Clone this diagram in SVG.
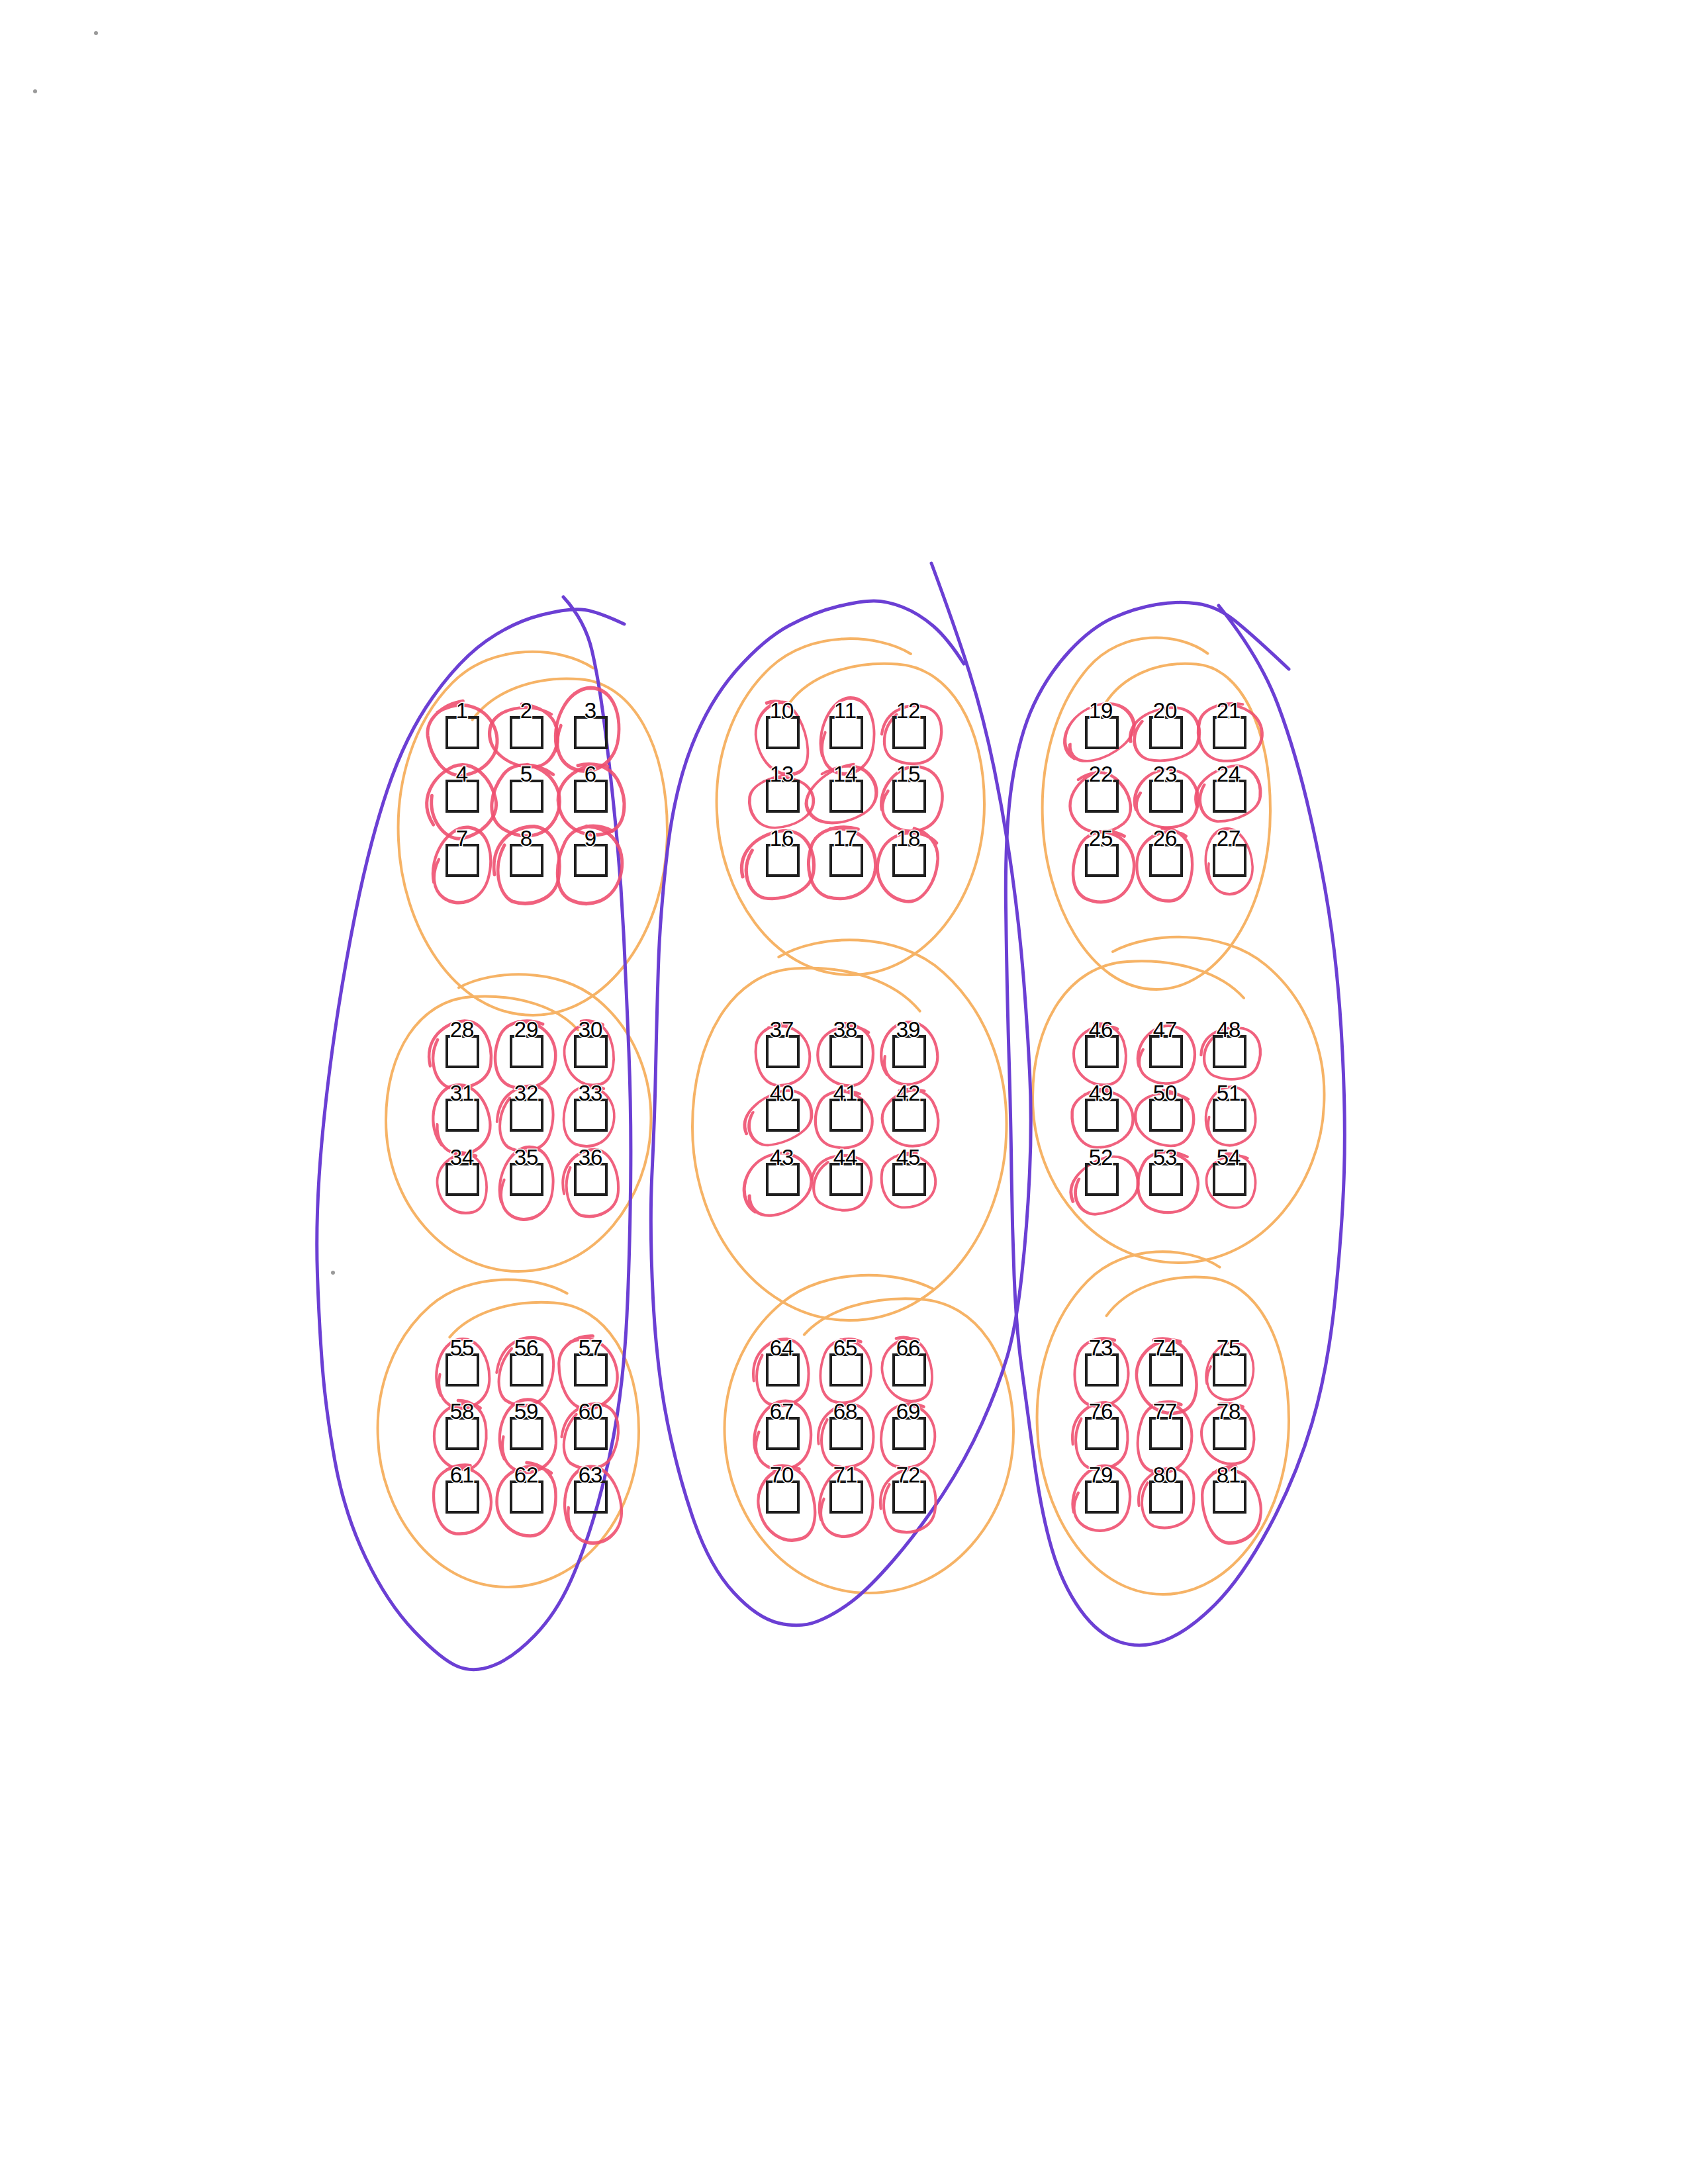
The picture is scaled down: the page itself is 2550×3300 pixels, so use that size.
<svg xmlns="http://www.w3.org/2000/svg" xmlns:xlink="http://www.w3.org/1999/xlink" width="2550" height="3300" viewBox="0 0 2550 3300">
<style>
.box{fill:none;stroke:#1e1e1e;stroke-width:4}
.lbl{font-family:"Liberation Sans",Arial,sans-serif;font-size:33px;fill:#000;text-anchor:middle;stroke:#fff;stroke-width:3;paint-order:stroke}
.red{fill:none;stroke:#ee5070;stroke-width:5;stroke-linecap:round;opacity:0.9}
.org{fill:none;stroke:#f6b366;stroke-width:4;stroke-linecap:round}
.pur{fill:none;stroke:#6b3fd4;stroke-width:5;stroke-linecap:round}
</style>
<defs>
<path id="og" d="M 0.45,-0.88 C 0.2,-1.0 -0.3,-1.02 -0.6,-0.8 C -0.9,-0.58 -1.02,-0.25 -1,0.05 C -0.98,0.5 -0.6,1.0 0,1 C 0.55,1.0 1.0,0.55 1,0 C 1.0,-0.45 0.75,-0.8 0.35,-0.82 C 0.0,-0.84 -0.3,-0.75 -0.45,-0.6" class="org" vector-effect="non-scaling-stroke"/>
<path id="ra" d="M -22,-48 C 22,-57 53,-28 51,9 C 48,46 13,60 -17,55 C -46,48 -55,11 -48,-20 C -42,-44 -11,-57 20,-51" class="red"/>
<path id="rb" d="M 33,-44 C 0,-60 -50,-38 -50,0 C -50,38 -17,60 17,55 C 46,50 55,11 44,-22 C 35,-46 11,-55 -11,-53" class="red"/>
<path id="rc" d="M -44,33 C -60,0 -38,-50 0,-53 C 38,-55 55,-17 50,17 C 44,50 6,64 -22,53 C -44,44 -50,22 -42,0" class="red"/>
<path id="rd" d="M -53,11 C -55,-33 -17,-53 17,-50 C 50,-44 57,-6 48,24 C 39,53 0,60 -28,50 C -50,39 -55,0 -33,-28" class="red"/>
</defs>
<rect width="2550" height="3300" fill="#fff"/>
<g id="specks" fill="#9a9a9a">
<circle cx="145" cy="50" r="3"/>
<circle cx="53" cy="138" r="3"/>
<circle cx="503" cy="1923" r="3"/>
</g>
<g id="connectors">
<g id="orange-groups">
<use href="#og" transform="translate(805,1255) scale(203,279)"/>
<use href="#og" transform="translate(783,1693) scale(-200,228)"/>
<use href="#og" transform="translate(768,2162) scale(197,236)"/>
<use href="#og" transform="translate(1285,1215) scale(202,258)"/>
<use href="#og" transform="translate(1283,1703) scale(-237,292)"/>
<use href="#og" transform="translate(1313,2163) scale(218,244)"/>
<use href="#og" transform="translate(1747,1225) scale(172,270)"/>
<use href="#og" transform="translate(1780,1658) scale(-220,250)"/>
<use href="#og" transform="translate(1757,2146) scale(190,263)"/>
</g>
<g id="purple-columns">
<path class="pur" d="M 943,943 Q 905,925 883.5,921.5 Q 862,918 818.5,929 Q 775,940 734.5,968.5 Q 694,997 653.5,1054 Q 613,1111 585.5,1192.5 Q 558,1274 536.5,1382 Q 515,1490 501.5,1590 Q 488,1690 482.5,1771.5 Q 477,1853 479.5,1926.5 Q 482,2000 487,2065 Q 492,2130 506,2208 Q 520,2286 552.5,2354 Q 585,2422 626,2465 Q 667,2508 691.5,2518 Q 716,2528 745.5,2516.5 Q 775,2505 807.5,2471.5 Q 840,2438 862,2389 Q 884,2340 903,2272.5 Q 922,2205 932.5,2137 Q 943,2069 947,1988 Q 951,1907 952.5,1798.5 Q 954,1690 950,1590 Q 946,1490 942,1409 Q 938,1328 930,1246.5 Q 922,1165 913.5,1097.5 Q 905,1030 894.5,984 Q 884,938 851,902"/>
<path class="pur" d="M 1407,851 Q 1443,948 1464.5,1016 Q 1486,1084 1502,1162.5 Q 1518,1241 1529,1320.5 Q 1540,1400 1546,1475 Q 1552,1550 1555.5,1620 Q 1559,1690 1555.5,1770 Q 1552,1850 1543.5,1927 Q 1535,2004 1521.5,2050 Q 1508,2096 1483.5,2150.5 Q 1459,2205 1423.5,2259 Q 1388,2313 1350.5,2356.5 Q 1313,2400 1286.5,2420 Q 1260,2440 1234.5,2450 Q 1209,2460 1176.5,2452.5 Q 1144,2445 1108.5,2406.5 Q 1073,2368 1049,2300 Q 1025,2232 1008.5,2150.5 Q 992,2069 986.5,1961 Q 981,1853 985,1771.5 Q 989,1690 990.5,1615 Q 992,1540 994.5,1461 Q 997,1382 1008,1287 Q 1019,1192 1046,1124.5 Q 1073,1057 1114,1011 Q 1155,965 1192.5,945 Q 1230,925 1265,916.5 Q 1300,908 1320,908 Q 1340,908 1364,917.5 Q 1388,927 1410,946 Q 1432,965 1456,1003"/>
<path class="pur" d="M 1841,915 Q 1903,992 1930.5,1065 Q 1958,1138 1979.5,1233 Q 2001,1328 2012,1409 Q 2023,1490 2028,1590 Q 2033,1690 2030.5,1771.5 Q 2028,1853 2017,1961 Q 2006,2069 1982,2150.5 Q 1958,2232 1917,2308 Q 1876,2384 1835.5,2424.5 Q 1795,2465 1759.5,2478.5 Q 1724,2492 1691.5,2481 Q 1659,2470 1632,2432.5 Q 1605,2395 1589,2340.5 Q 1573,2286 1562,2205 Q 1551,2124 1543,2064 Q 1535,2004 1532,1927 Q 1529,1850 1528,1770 Q 1527,1690 1524,1590 Q 1521,1490 1519.5,1371 Q 1518,1252 1529,1181.5 Q 1540,1111 1561.5,1065 Q 1583,1019 1616,983.5 Q 1649,948 1681.5,933.5 Q 1714,919 1746.5,913.5 Q 1779,908 1808.5,912 Q 1838,916 1865,937.5 Q 1892,959 1947,1011"/>
</g>
<g id="red-loops">
<use href="#ra" transform="translate(698,1114) rotate(-20)"/>
<use href="#rb" transform="translate(792,1110) rotate(10) scale(1.05,0.85)"/>
<use href="#rc" transform="translate(887,1100) rotate(5) scale(0.95,1.15)"/>
<use href="#rd" transform="translate(695,1210) rotate(-30)"/>
<use href="#ra" transform="translate(796,1208) rotate(25)"/>
<use href="#rb" transform="translate(893,1207) rotate(-10)"/>
<use href="#rc" transform="translate(698,1305) rotate(10) scale(0.85,1.05)"/>
<use href="#rd" transform="translate(796,1305) rotate(-5) scale(0.95,1.1)"/>
<use href="#ra" transform="translate(892,1305) rotate(15) scale(0.95,1.1)"/>
<use href="#rb" transform="translate(1180,1114) rotate(-15) scale(0.75,1.05)"/>
<use href="#rc" transform="translate(1280,1110) rotate(5) scale(0.8,1.05)"/>
<use href="#rd" transform="translate(1378,1108) rotate(10) scale(0.85,0.85)"/>
<use href="#ra" transform="translate(1180,1210) rotate(-10) scale(0.95,0.7)"/>
<use href="#rb" transform="translate(1270,1200) rotate(-25) scale(1.1,0.75)"/>
<use href="#rc" transform="translate(1378,1205) rotate(15) scale(0.9,0.9)"/>
<use href="#rd" transform="translate(1175,1305) rotate(-10) scale(1.05,0.95)"/>
<use href="#ra" transform="translate(1272,1302) rotate(5) scale(1.0,1.0)"/>
<use href="#rb" transform="translate(1372,1305) rotate(20) scale(0.9,1.0)"/>
<use href="#rc" transform="translate(1658,1105) rotate(-25) scale(1.1,0.7)"/>
<use href="#rd" transform="translate(1760,1108) rotate(-5) scale(1.0,0.75)"/>
<use href="#ra" transform="translate(1858,1105) rotate(0) scale(0.95,0.8)"/>
<use href="#rb" transform="translate(1660,1212) rotate(-30) scale(0.9,0.85)"/>
<use href="#rc" transform="translate(1762,1205) rotate(10) scale(0.95,0.8)"/>
<use href="#rd" transform="translate(1855,1198) rotate(-15) scale(0.95,0.75)"/>
<use href="#ra" transform="translate(1668,1308) rotate(15) scale(0.9,1.0)"/>
<use href="#rb" transform="translate(1760,1305) rotate(5) scale(0.85,1.0)"/>
<use href="#rc" transform="translate(1855,1300) rotate(-10) scale(0.7,0.9)"/>
<use href="#rd" transform="translate(695,1592) rotate(-10) scale(0.9,0.95)"/>
<use href="#ra" transform="translate(794,1592) rotate(10) scale(0.9,0.95)"/>
<use href="#rb" transform="translate(890,1590) rotate(-5) scale(0.75,0.9)"/>
<use href="#rc" transform="translate(695,1690) rotate(-15) scale(0.85,0.95)"/>
<use href="#rd" transform="translate(794,1688) rotate(5) scale(0.8,0.95)"/>
<use href="#ra" transform="translate(890,1685) rotate(10) scale(0.75,0.85)"/>
<use href="#rb" transform="translate(698,1786) rotate(-5) scale(0.75,0.85)"/>
<use href="#rc" transform="translate(795,1786) rotate(5) scale(0.8,1.0)"/>
<use href="#rd" transform="translate(892,1786) rotate(-10) scale(0.8,0.95)"/>
<use href="#ra" transform="translate(1182,1592) rotate(-5) scale(0.8,0.85)"/>
<use href="#rb" transform="translate(1278,1592) rotate(10) scale(0.85,0.85)"/>
<use href="#rc" transform="translate(1372,1590) rotate(-10) scale(0.85,0.85)"/>
<use href="#rd" transform="translate(1175,1688) rotate(-20) scale(1.0,0.7)"/>
<use href="#ra" transform="translate(1275,1690) rotate(10) scale(0.85,0.8)"/>
<use href="#rb" transform="translate(1375,1688) rotate(-10) scale(0.85,0.8)"/>
<use href="#rc" transform="translate(1172,1788) rotate(-25) scale(1.05,0.8)"/>
<use href="#rd" transform="translate(1272,1785) rotate(15) scale(0.85,0.8)"/>
<use href="#ra" transform="translate(1372,1782) rotate(-5) scale(0.8,0.75)"/>
<use href="#rb" transform="translate(1662,1592) rotate(0) scale(0.8,0.85)"/>
<use href="#rc" transform="translate(1762,1592) rotate(10) scale(0.85,0.8)"/>
<use href="#rd" transform="translate(1860,1590) rotate(5) scale(0.85,0.75)"/>
<use href="#ra" transform="translate(1665,1688) rotate(-10) scale(0.9,0.8)"/>
<use href="#rb" transform="translate(1760,1688) rotate(10) scale(0.9,0.75)"/>
<use href="#rc" transform="translate(1858,1685) rotate(-5) scale(0.75,0.8)"/>
<use href="#rd" transform="translate(1668,1790) rotate(-20) scale(1.0,0.75)"/>
<use href="#ra" transform="translate(1765,1785) rotate(15) scale(0.9,0.85)"/>
<use href="#rb" transform="translate(1860,1783) rotate(0) scale(0.75,0.75)"/>
<use href="#rc" transform="translate(698,2074) rotate(-5) scale(0.8,0.95)"/>
<use href="#rd" transform="translate(794,2070) rotate(10) scale(0.8,1.0)"/>
<use href="#ra" transform="translate(888,2072) rotate(-10) scale(0.85,1.0)"/>
<use href="#rb" transform="translate(696,2167) rotate(5) scale(0.8,0.95)"/>
<use href="#rc" transform="translate(796,2168) rotate(-5) scale(0.85,1.0)"/>
<use href="#rd" transform="translate(892,2168) rotate(10) scale(0.8,0.95)"/>
<use href="#ra" transform="translate(698,2264) rotate(-5) scale(0.85,0.95)"/>
<use href="#rb" transform="translate(796,2264) rotate(10) scale(0.9,1.0)"/>
<use href="#rc" transform="translate(894,2272) rotate(-10) scale(0.85,1.05)"/>
<use href="#rd" transform="translate(1180,2072) rotate(-5) scale(0.8,0.95)"/>
<use href="#ra" transform="translate(1278,2070) rotate(10) scale(0.75,0.9)"/>
<use href="#rb" transform="translate(1370,2068) rotate(-10) scale(0.75,0.9)"/>
<use href="#rc" transform="translate(1182,2167) rotate(5) scale(0.85,0.95)"/>
<use href="#rd" transform="translate(1278,2168) rotate(-5) scale(0.8,0.9)"/>
<use href="#ra" transform="translate(1372,2168) rotate(10) scale(0.8,0.9)"/>
<use href="#rb" transform="translate(1188,2270) rotate(-10) scale(0.85,1.05)"/>
<use href="#rc" transform="translate(1278,2268) rotate(5) scale(0.8,0.95)"/>
<use href="#rd" transform="translate(1372,2266) rotate(-5) scale(0.8,0.9)"/>
<use href="#ra" transform="translate(1664,2072) rotate(5) scale(0.8,0.95)"/>
<use href="#rb" transform="translate(1762,2078) rotate(-10) scale(0.9,1.05)"/>
<use href="#rc" transform="translate(1858,2070) rotate(10) scale(0.7,0.8)"/>
<use href="#rd" transform="translate(1662,2168) rotate(-5) scale(0.8,0.95)"/>
<use href="#ra" transform="translate(1760,2170) rotate(10) scale(0.8,1.0)"/>
<use href="#rb" transform="translate(1855,2165) rotate(-5) scale(0.8,0.85)"/>
<use href="#rc" transform="translate(1664,2262) rotate(10) scale(0.85,0.9)"/>
<use href="#rd" transform="translate(1762,2262) rotate(-5) scale(0.8,0.85)"/>
<use href="#ra" transform="translate(1860,2272) rotate(-10) scale(0.85,1.05)"/>
</g>
</g>
<g id="nodes">
<g id="n1"><rect class="box" x="675" y="1084" width="47" height="46"/><text class="lbl" x="698" y="1085">1</text></g>
<g id="n2"><rect class="box" x="772" y="1084" width="47" height="46"/><text class="lbl" x="795" y="1085">2</text></g>
<g id="n3"><rect class="box" x="869" y="1084" width="47" height="46"/><text class="lbl" x="892" y="1085">3</text></g>
<g id="n4"><rect class="box" x="675" y="1180" width="47" height="46"/><text class="lbl" x="698" y="1181">4</text></g>
<g id="n5"><rect class="box" x="772" y="1180" width="47" height="46"/><text class="lbl" x="795" y="1181">5</text></g>
<g id="n6"><rect class="box" x="869" y="1180" width="47" height="46"/><text class="lbl" x="892" y="1181">6</text></g>
<g id="n7"><rect class="box" x="675" y="1277" width="47" height="46"/><text class="lbl" x="698" y="1278">7</text></g>
<g id="n8"><rect class="box" x="772" y="1277" width="47" height="46"/><text class="lbl" x="795" y="1278">8</text></g>
<g id="n9"><rect class="box" x="869" y="1277" width="47" height="46"/><text class="lbl" x="892" y="1278">9</text></g>
<g id="n10"><rect class="box" x="1159" y="1084" width="47" height="46"/><text class="lbl" x="1181" y="1085">10</text></g>
<g id="n11"><rect class="box" x="1255" y="1084" width="47" height="46"/><text class="lbl" x="1277" y="1085">11</text></g>
<g id="n12"><rect class="box" x="1350" y="1084" width="47" height="46"/><text class="lbl" x="1372" y="1085">12</text></g>
<g id="n13"><rect class="box" x="1159" y="1180" width="47" height="46"/><text class="lbl" x="1181" y="1181">13</text></g>
<g id="n14"><rect class="box" x="1255" y="1180" width="47" height="46"/><text class="lbl" x="1277" y="1181">14</text></g>
<g id="n15"><rect class="box" x="1350" y="1180" width="47" height="46"/><text class="lbl" x="1372" y="1181">15</text></g>
<g id="n16"><rect class="box" x="1159" y="1277" width="47" height="46"/><text class="lbl" x="1181" y="1278">16</text></g>
<g id="n17"><rect class="box" x="1255" y="1277" width="47" height="46"/><text class="lbl" x="1277" y="1278">17</text></g>
<g id="n18"><rect class="box" x="1350" y="1277" width="47" height="46"/><text class="lbl" x="1372" y="1278">18</text></g>
<g id="n19"><rect class="box" x="1641" y="1084" width="47" height="46"/><text class="lbl" x="1663" y="1085">19</text></g>
<g id="n20"><rect class="box" x="1738" y="1084" width="47" height="46"/><text class="lbl" x="1760" y="1085">20</text></g>
<g id="n21"><rect class="box" x="1834" y="1084" width="47" height="46"/><text class="lbl" x="1856" y="1085">21</text></g>
<g id="n22"><rect class="box" x="1641" y="1180" width="47" height="46"/><text class="lbl" x="1663" y="1181">22</text></g>
<g id="n23"><rect class="box" x="1738" y="1180" width="47" height="46"/><text class="lbl" x="1760" y="1181">23</text></g>
<g id="n24"><rect class="box" x="1834" y="1180" width="47" height="46"/><text class="lbl" x="1856" y="1181">24</text></g>
<g id="n25"><rect class="box" x="1641" y="1277" width="47" height="46"/><text class="lbl" x="1663" y="1278">25</text></g>
<g id="n26"><rect class="box" x="1738" y="1277" width="47" height="46"/><text class="lbl" x="1760" y="1278">26</text></g>
<g id="n27"><rect class="box" x="1834" y="1277" width="47" height="46"/><text class="lbl" x="1856" y="1278">27</text></g>
<g id="n28"><rect class="box" x="675" y="1566" width="47" height="46"/><text class="lbl" x="698" y="1567">28</text></g>
<g id="n29"><rect class="box" x="772" y="1566" width="47" height="46"/><text class="lbl" x="795" y="1567">29</text></g>
<g id="n30"><rect class="box" x="869" y="1566" width="47" height="46"/><text class="lbl" x="892" y="1567">30</text></g>
<g id="n31"><rect class="box" x="675" y="1662" width="47" height="46"/><text class="lbl" x="698" y="1663">31</text></g>
<g id="n32"><rect class="box" x="772" y="1662" width="47" height="46"/><text class="lbl" x="795" y="1663">32</text></g>
<g id="n33"><rect class="box" x="869" y="1662" width="47" height="46"/><text class="lbl" x="892" y="1663">33</text></g>
<g id="n34"><rect class="box" x="675" y="1759" width="47" height="46"/><text class="lbl" x="698" y="1760">34</text></g>
<g id="n35"><rect class="box" x="772" y="1759" width="47" height="46"/><text class="lbl" x="795" y="1760">35</text></g>
<g id="n36"><rect class="box" x="869" y="1759" width="47" height="46"/><text class="lbl" x="892" y="1760">36</text></g>
<g id="n37"><rect class="box" x="1159" y="1566" width="47" height="46"/><text class="lbl" x="1181" y="1567">37</text></g>
<g id="n38"><rect class="box" x="1255" y="1566" width="47" height="46"/><text class="lbl" x="1277" y="1567">38</text></g>
<g id="n39"><rect class="box" x="1350" y="1566" width="47" height="46"/><text class="lbl" x="1372" y="1567">39</text></g>
<g id="n40"><rect class="box" x="1159" y="1662" width="47" height="46"/><text class="lbl" x="1181" y="1663">40</text></g>
<g id="n41"><rect class="box" x="1255" y="1662" width="47" height="46"/><text class="lbl" x="1277" y="1663">41</text></g>
<g id="n42"><rect class="box" x="1350" y="1662" width="47" height="46"/><text class="lbl" x="1372" y="1663">42</text></g>
<g id="n43"><rect class="box" x="1159" y="1759" width="47" height="46"/><text class="lbl" x="1181" y="1760">43</text></g>
<g id="n44"><rect class="box" x="1255" y="1759" width="47" height="46"/><text class="lbl" x="1277" y="1760">44</text></g>
<g id="n45"><rect class="box" x="1350" y="1759" width="47" height="46"/><text class="lbl" x="1372" y="1760">45</text></g>
<g id="n46"><rect class="box" x="1641" y="1566" width="47" height="46"/><text class="lbl" x="1663" y="1567">46</text></g>
<g id="n47"><rect class="box" x="1738" y="1566" width="47" height="46"/><text class="lbl" x="1760" y="1567">47</text></g>
<g id="n48"><rect class="box" x="1834" y="1566" width="47" height="46"/><text class="lbl" x="1856" y="1567">48</text></g>
<g id="n49"><rect class="box" x="1641" y="1662" width="47" height="46"/><text class="lbl" x="1663" y="1663">49</text></g>
<g id="n50"><rect class="box" x="1738" y="1662" width="47" height="46"/><text class="lbl" x="1760" y="1663">50</text></g>
<g id="n51"><rect class="box" x="1834" y="1662" width="47" height="46"/><text class="lbl" x="1856" y="1663">51</text></g>
<g id="n52"><rect class="box" x="1641" y="1759" width="47" height="46"/><text class="lbl" x="1663" y="1760">52</text></g>
<g id="n53"><rect class="box" x="1738" y="1759" width="47" height="46"/><text class="lbl" x="1760" y="1760">53</text></g>
<g id="n54"><rect class="box" x="1834" y="1759" width="47" height="46"/><text class="lbl" x="1856" y="1760">54</text></g>
<g id="n55"><rect class="box" x="675" y="2047" width="47" height="46"/><text class="lbl" x="698" y="2048">55</text></g>
<g id="n56"><rect class="box" x="772" y="2047" width="47" height="46"/><text class="lbl" x="795" y="2048">56</text></g>
<g id="n57"><rect class="box" x="869" y="2047" width="47" height="46"/><text class="lbl" x="892" y="2048">57</text></g>
<g id="n58"><rect class="box" x="675" y="2143" width="47" height="46"/><text class="lbl" x="698" y="2144">58</text></g>
<g id="n59"><rect class="box" x="772" y="2143" width="47" height="46"/><text class="lbl" x="795" y="2144">59</text></g>
<g id="n60"><rect class="box" x="869" y="2143" width="47" height="46"/><text class="lbl" x="892" y="2144">60</text></g>
<g id="n61"><rect class="box" x="675" y="2239" width="47" height="46"/><text class="lbl" x="698" y="2240">61</text></g>
<g id="n62"><rect class="box" x="772" y="2239" width="47" height="46"/><text class="lbl" x="795" y="2240">62</text></g>
<g id="n63"><rect class="box" x="869" y="2239" width="47" height="46"/><text class="lbl" x="892" y="2240">63</text></g>
<g id="n64"><rect class="box" x="1159" y="2047" width="47" height="46"/><text class="lbl" x="1181" y="2048">64</text></g>
<g id="n65"><rect class="box" x="1255" y="2047" width="47" height="46"/><text class="lbl" x="1277" y="2048">65</text></g>
<g id="n66"><rect class="box" x="1350" y="2047" width="47" height="46"/><text class="lbl" x="1372" y="2048">66</text></g>
<g id="n67"><rect class="box" x="1159" y="2143" width="47" height="46"/><text class="lbl" x="1181" y="2144">67</text></g>
<g id="n68"><rect class="box" x="1255" y="2143" width="47" height="46"/><text class="lbl" x="1277" y="2144">68</text></g>
<g id="n69"><rect class="box" x="1350" y="2143" width="47" height="46"/><text class="lbl" x="1372" y="2144">69</text></g>
<g id="n70"><rect class="box" x="1159" y="2239" width="47" height="46"/><text class="lbl" x="1181" y="2240">70</text></g>
<g id="n71"><rect class="box" x="1255" y="2239" width="47" height="46"/><text class="lbl" x="1277" y="2240">71</text></g>
<g id="n72"><rect class="box" x="1350" y="2239" width="47" height="46"/><text class="lbl" x="1372" y="2240">72</text></g>
<g id="n73"><rect class="box" x="1641" y="2047" width="47" height="46"/><text class="lbl" x="1663" y="2048">73</text></g>
<g id="n74"><rect class="box" x="1738" y="2047" width="47" height="46"/><text class="lbl" x="1760" y="2048">74</text></g>
<g id="n75"><rect class="box" x="1834" y="2047" width="47" height="46"/><text class="lbl" x="1856" y="2048">75</text></g>
<g id="n76"><rect class="box" x="1641" y="2143" width="47" height="46"/><text class="lbl" x="1663" y="2144">76</text></g>
<g id="n77"><rect class="box" x="1738" y="2143" width="47" height="46"/><text class="lbl" x="1760" y="2144">77</text></g>
<g id="n78"><rect class="box" x="1834" y="2143" width="47" height="46"/><text class="lbl" x="1856" y="2144">78</text></g>
<g id="n79"><rect class="box" x="1641" y="2239" width="47" height="46"/><text class="lbl" x="1663" y="2240">79</text></g>
<g id="n80"><rect class="box" x="1738" y="2239" width="47" height="46"/><text class="lbl" x="1760" y="2240">80</text></g>
<g id="n81"><rect class="box" x="1834" y="2239" width="47" height="46"/><text class="lbl" x="1856" y="2240">81</text></g>
</g>
</svg>
